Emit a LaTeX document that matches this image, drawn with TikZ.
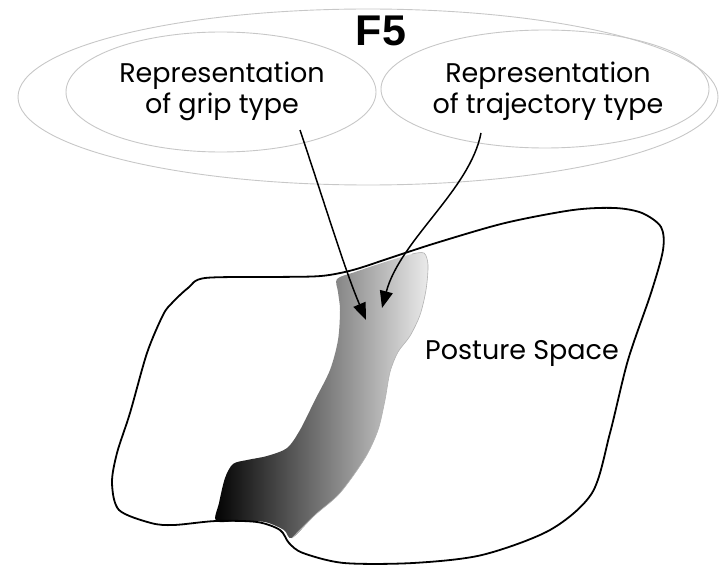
\documentclass[tikz,border=0pt]{standalone}
\usepackage{fontspec}
\setmainfont{Poppins}
\newfontfamily\headfont{Liberation Sans}
\usetikzlibrary{arrows.meta}
\begin{document}
\begin{tikzpicture}[x=1pt,y=-1pt,
  ringline/.style={draw=black!22, line width=0.9pt},
  label/.style={font=\fontsize{27}{31}\selectfont, align=center, inner sep=0pt},
  pointer/.style={draw=black, line width=1.5pt, -{Triangle[length=17pt,width=13pt]}},
  outline/.style={draw=black, line width=1.8pt}]
\useasboundingbox (0,0) rectangle (719,564);
% ellipses
\draw[ringline] (368,97) ellipse [x radius=350pt, y radius=88pt];
\draw[ringline] (221,92) ellipse [x radius=155pt, y radius=60pt];
\draw[ringline] (545,89) ellipse [x radius=164pt, y radius=59pt];
\node[font=\headfont\fontsize{43}{46}\selectfont\bfseries, inner sep=0pt] (f5) at (381,31) {F5};
\node[label] (grip) at (222,91) {Representation\\of grip type};
\node[label] (traj) at (548,91) {Representation\\of trajectory type};
% shaded strip
\shade[left color=black, middle color=black!42, right color=black!8]
  plot[smooth cycle, tension=0.5] coordinates {
  (337,279) (355,272) (385,262) (412,254) (424,253) (428,265) (426,290) (420,315)
  (410,336) (398,352) (390,372) (385,400) (378,430) (365,458) (340,493) (315,515)
  (292,538) (284,530) (265,522) (240,521) (216,521) (219,503) (225,478) (233,464)
  (247,460) (267,456) (287,448) (300,430) (315,400) (330,370) (338,340) (340,310) (338,292)};
\draw[black!30, line width=0.6pt]
  plot[smooth, tension=0.5] coordinates {(412,254) (424,253) (428,265) (426,290) (420,315)
  (410,336) (398,352) (390,372) (385,400) (378,430) (365,458) (340,493) (315,515) (292,538)};
% posture space outline
\draw[outline] plot[smooth cycle, tension=0.5] coordinates {
  (119,510) (151,523) (174,525) (216,521) (257,522) (280,530) (289,543) (303,553)
  (344,563) (413,563) (482,555) (550,530) (592,493) (610,433) (628,360) (651,293)
  (663,250) (661,227) (642,213) (615,208) (573,210) (505,223) (436,243) (390,258)
  (353,270) (321,276) (275,277) (205,278) (188,288) (172,303) (163,315) (147,353)
  (130,413) (117,453) (112,483)};
\node[font=\fontsize{27}{31}\selectfont, inner sep=0pt] (ps) at (522,353) {Posture Space};
% arrows
\coordinate (gs) at (300,130);
\coordinate (ge) at (366,320);
\coordinate (ts) at (481,133);
\coordinate (te) at (382,308);
\draw[pointer] (gs) .. controls (330,220) and (345,270) .. (ge);
\draw[pointer] (ts) .. controls (470,190) and (400,240) .. (te);
\end{tikzpicture}
\end{document}
